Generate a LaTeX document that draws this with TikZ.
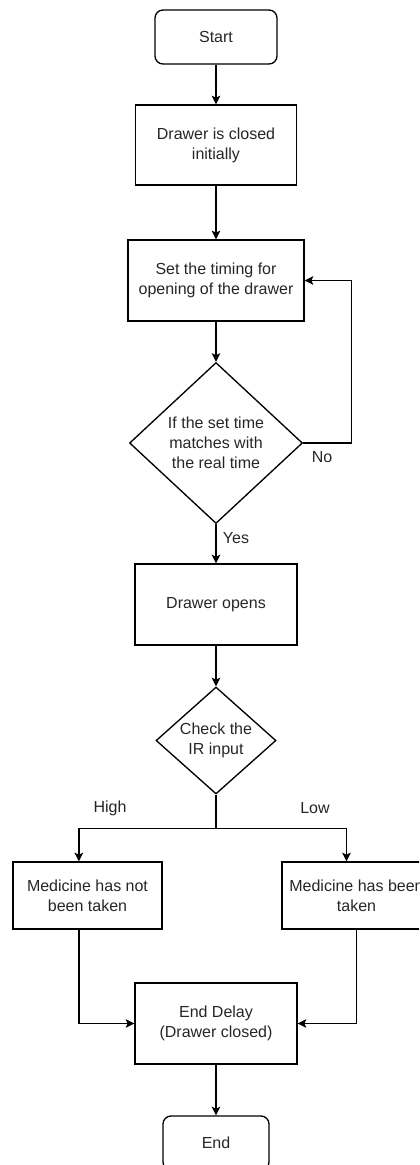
\documentclass[tikz,border=0pt]{standalone}
\usepackage{fontspec}
\setmainfont{Liberation Sans}
\usetikzlibrary{shapes.geometric}
\usetikzlibrary{arrows.meta}

\tikzset{
  every node/.style={font=\fontsize{12pt}{15pt}\selectfont, text=black!85},
  term/.style={draw, line width=1pt, rounded corners=6pt, minimum width=91.5pt, minimum height=40.5pt},
  proc/.style={draw, line width=1pt, align=center, inner sep=0pt},
  decide/.style={draw, line width=1pt, diamond, align=center, inner sep=0pt},
  flow/.style={line width=1pt, -{Stealth[length=6.5pt,width=6.5pt,inset=1.5pt]}},
}

\begin{document}
\begin{tikzpicture}[x=0.75pt,y=0.75pt,yscale=-1,xscale=1]
\useasboundingbox (0,0) rectangle (419,1165);
\clip (0,0) rectangle (419,1165);

%Rounded Rect
\node [term] (start) at (216,37) {Start};
%Shape: Rectangle
\node [proc, minimum width=120.75pt, minimum height=60pt] (closed) at (216,145) {Drawer is closed\\initially};
%Shape: Rectangle
\node [proc, minimum width=132pt, minimum height=60.75pt] (timing) at (216,280.5) {Set the timing for\\opening of the drawer};
%Shape: Diamond
\node [decide, minimum width=129.75pt, minimum height=120.75pt] (match) at (216,443) {If the set time\\matches with\\the real time};
%Shape: Rectangle
\node [proc, minimum width=121.5pt, minimum height=60.75pt] (opens) at (216,604.5) {Drawer opens};
%Shape: Diamond
\node [decide, minimum width=90pt, minimum height=80.25pt] (check) at (216,740.5) {Check the\\IR input};
%Shape: Rectangle
\node [proc, minimum width=111.75pt, minimum height=50.25pt] (nottaken) at (87.5,895.5) {Medicine has not\\been taken};
%Shape: Rectangle
\node [proc, minimum width=111.75pt, minimum height=50.25pt] (taken) at (356.5,895.5) {Medicine has been\\taken};
%Shape: Rectangle
\node [proc, minimum width=121.5pt, minimum height=60.75pt] (delay) at (216,1023.5) {End Delay\\(Drawer closed)};
%Rounded Rect
\node [term, minimum width=79.5pt] (end) at (216,1143) {End};

%Straight Lines
\draw [flow] (start) -- (closed);
\draw [flow] (closed) -- (timing);
\draw [flow] (timing) -- (match);
\draw [flow] (match.east) -- ++(48,0) |- (timing.east);
\draw [flow] (match) -- (opens);
\draw [flow] (opens) -- (check);
\draw [line width=1pt] (check.south) -- ++(0,34) coordinate (split);
\draw [flow] (split) -| ([xshift=-6.5]nottaken.north);
\draw [flow] (split) -| ([xshift=-7.5]taken.north);
\draw [flow] ([xshift=-6.5]nottaken.south) |- (delay.west);
\draw [flow] (taken.south) |- (delay.east);
\draw [flow] (delay) -- (end);

% Text Node
\node (no) at (322,457) {No};
\node (yes) at (236,538) {Yes};
\node (high) at (110,808) {High};
\node (low) at (315,808) {Low};

\end{tikzpicture}
\end{document}
